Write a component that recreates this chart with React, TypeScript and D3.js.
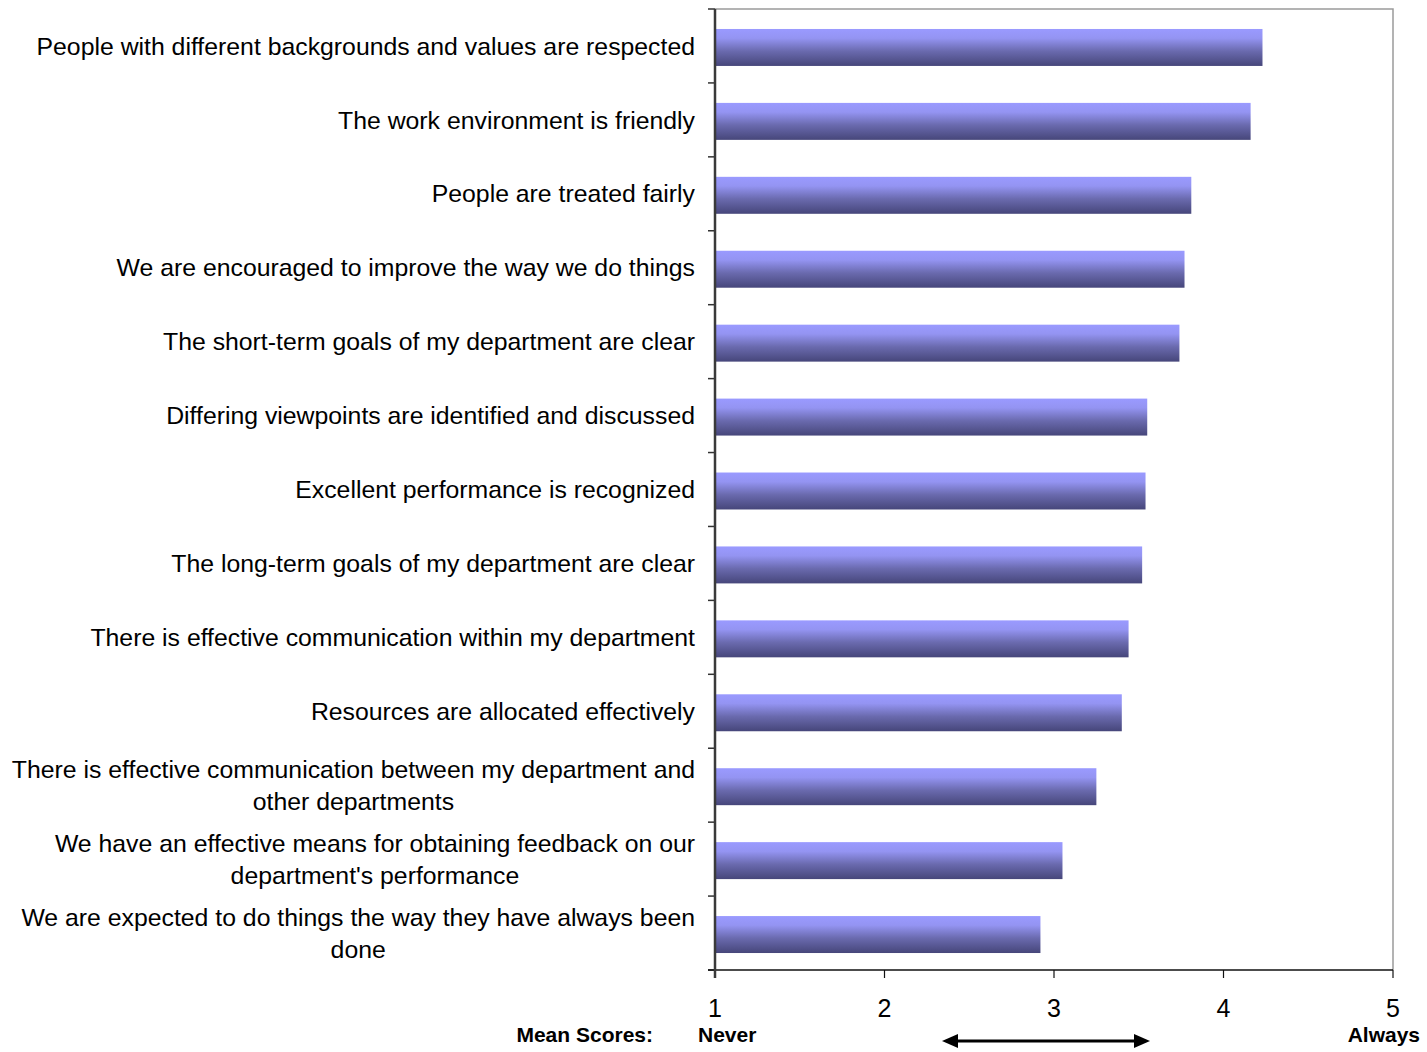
import React, { useEffect, useRef } from "react";
import * as d3 from "d3";

const categories: string[] = [
  "People with different backgrounds and values are respected",
  "The work environment is friendly",
  "People are treated fairly",
  "We are encouraged to improve the way we do things",
  "The short-term goals of my department are clear",
  "Differing viewpoints are identified and discussed",
  "Excellent performance is recognized",
  "The long-term goals of my department are clear",
  "There is effective communication within my department",
  "Resources are allocated effectively",
  "There is effective communication between my department and|other departments",
  "We have an effective means for obtaining feedback on our|department's performance",
  "We are expected to do things the way they have always been|done",
];

const meanScores: number[] = [4.23, 4.16, 3.81, 3.77, 3.74, 3.55, 3.54, 3.52, 3.44, 3.4, 3.25, 3.05, 2.92];

const xTicks: number[] = [1, 2, 3, 4, 5];

const W = 1427;
const H = 1052;
const FONT = "'Liberation Sans', Arial, sans-serif";

export default function App() {
  const ref = useRef<SVGSVGElement | null>(null);

  useEffect(() => {
    const svg = d3.select(ref.current!);
    svg.selectAll("*").remove();

    const left = 715, right = 1393, top = 9, bottom = 970;

    const x = d3.scaleLinear().domain([1, 5]).range([left, right]);
    const y = d3
      .scaleBand<number>()
      .domain(d3.range(categories.length))
      .range([top + 1.5, bottom + 1.5])
      .paddingInner(0.5)
      .paddingOuter(0.25);
    const yCat = d3
      .scaleBand<number>()
      .domain(d3.range(categories.length))
      .range([top, bottom]);

    const defs = svg.append("defs");
    const grad = defs
      .append("linearGradient")
      .attr("id", "barGrad")
      .attr("x1", 0).attr("y1", 0).attr("x2", 0).attr("y2", 1);
    [
      [0, "#9a9aff"],
      [0.25, "#9494f2"],
      [0.6, "#6a6aae"],
      [1, "#46467a"],
    ].forEach(([o, c]) => grad.append("stop").attr("offset", o as number).attr("stop-color", c as string));

    // border top/right
    svg.append("path")
      .attr("d", `M${left},${top}H${right}V${bottom}`)
      .attr("fill", "none")
      .attr("stroke", "#9a9a9a")
      .attr("stroke-width", 1.5);

    // bars
    svg.append("g")
      .selectAll("rect")
      .data(meanScores)
      .join("rect")
      .attr("x", x(1))
      .attr("y", (_d, i) => y(i)!)
      .attr("width", (d) => x(d) - x(1))
      .attr("height", y.bandwidth())
      .attr("fill", "url(#barGrad)");

    // category tick marks
    const tg = svg.append("g");
    d3.range(categories.length + 1).forEach((i) => {
      const ty = i < categories.length ? yCat(i)! : bottom;
      tg.append("line")
        .attr("x1", left - 7).attr("x2", left)
        .attr("y1", ty).attr("y2", ty)
        .attr("stroke", "#333").attr("stroke-width", 1.5);
    });

    // bottom axis
    svg.append("line")
      .attr("x1", left - 7).attr("x2", right)
      .attr("y1", bottom).attr("y2", bottom)
      .attr("stroke", "#111").attr("stroke-width", 1.5);
    xTicks.forEach((t) => {
      svg.append("line")
        .attr("x1", x(t)).attr("x2", x(t))
        .attr("y1", bottom).attr("y2", bottom + 8)
        .attr("stroke", "#111").attr("stroke-width", 1.2);
      svg.append("text")
        .attr("x", x(t)).attr("y", 1017)
        .attr("text-anchor", "middle")
        .attr("font-family", FONT).attr("font-size", 25)
        .attr("fill", "#000")
        .text(String(t));
    });

    // left axis
    svg.append("line")
      .attr("x1", left).attr("x2", left)
      .attr("y1", top).attr("y2", bottom + 8)
      .attr("stroke", "#3a3a3a").attr("stroke-width", 2.5);

    // labels
    const labelRight = 695;
    const lg = svg.append("g").attr("font-family", FONT).attr("font-size", 24.8).attr("fill", "#000");
    categories.forEach((c, i) => {
      const lines = c.split("|");
      const cy = yCat(i)! + yCat.bandwidth() / 2;
      if (lines.length === 1) {
        lg.append("text")
          .attr("x", labelRight).attr("y", cy).attr("dy", "0.35em")
          .attr("text-anchor", "end")
          .text(lines[0]);
      } else {
        const texts = lines.map((l, k) =>
          lg.append("text")
            .attr("y", cy + (k - (lines.length - 1) / 2) * 32)
            .attr("dy", "0.35em")
            .attr("text-anchor", "middle")
            .text(l)
        );
        const maxW = d3.max(texts, (t) => (t.node() as SVGTextElement).getComputedTextLength()) || 0;
        texts.forEach((t) => t.attr("x", labelRight - maxW / 2));
      }
    });

    // footer
    const fg = svg.append("g").attr("font-family", FONT).attr("font-size", 21).attr("font-weight", "bold").attr("fill", "#000");
    fg.append("text").attr("x", 653).attr("y", 1042).attr("text-anchor", "end").text("Mean Scores:");
    fg.append("text").attr("x", 698).attr("y", 1042).text("Never");
    fg.append("text").attr("x", 1420).attr("y", 1042).attr("text-anchor", "end").text("Always");

    // double arrow
    const ay = 1041, ax1 = 942, ax2 = 1150;
    svg.append("line")
      .attr("x1", ax1 + 12).attr("x2", ax2 - 12)
      .attr("y1", ay).attr("y2", ay)
      .attr("stroke", "#000").attr("stroke-width", 3);
    svg.append("path").attr("d", `M${ax1},${ay}L${ax1 + 16},${ay - 7}L${ax1 + 16},${ay + 7}Z`).attr("fill", "#000");
    svg.append("path").attr("d", `M${ax2},${ay}L${ax2 - 16},${ay - 7}L${ax2 - 16},${ay + 7}Z`).attr("fill", "#000");
  }, []);

  return (
    <svg
      ref={ref}
      width={W}
      height={H}
      style={{ position: "absolute", left: 0, top: 0, background: "#fff" }}
    />
  );
}
